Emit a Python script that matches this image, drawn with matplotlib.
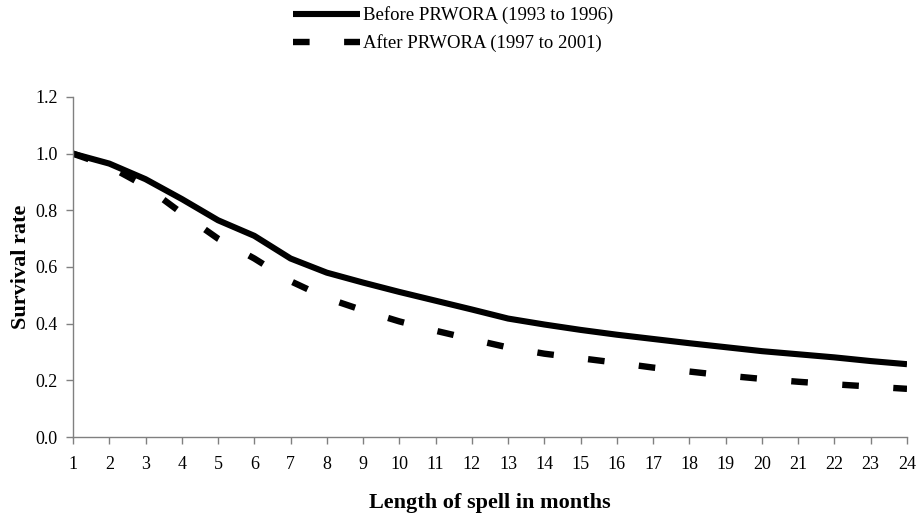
import matplotlib
matplotlib.use("Agg")
import matplotlib.pyplot as plt

months = list(range(1, 25))
before = [1.0, 0.965, 0.91, 0.84, 0.765, 0.71, 0.63, 0.58, 0.545, 0.512, 0.481, 0.45,
          0.418, 0.397, 0.378, 0.361, 0.346, 0.331, 0.317, 0.303, 0.292, 0.281, 0.268, 0.257]
after = [1.0, 0.955, 0.885, 0.79, 0.70, 0.63, 0.55, 0.49, 0.447, 0.408, 0.375, 0.345,
         0.316, 0.294, 0.278, 0.262, 0.245, 0.231, 0.217, 0.205, 0.195, 0.186, 0.178, 0.170]
yticks = [0.0, 0.2, 0.4, 0.6, 0.8, 1.0, 1.2]
labels = ["Before PRWORA (1993 to 1996)", "After PRWORA (1997 to 2001)"]

plt.rcParams['font.family'] = ['Liberation Serif', 'DejaVu Serif']

fig = plt.figure(figsize=(9.19, 5.22), dpi=100)
ax = fig.add_axes([73/919, 1 - 437/522, (907 - 73)/919, (437 - 97)/522])

ax.plot(months, before, color='black', lw=4.4, solid_capstyle='butt', label=labels[0])
ax.plot(months, after, color='black', lw=4.6, dashes=(2.6, 5.4), dash_capstyle='butt',
        label=labels[1])

ax.set_xlim(1, 24)
ax.set_ylim(0, 1.2)
ax.set_xticks(months)
ax.set_xticklabels([str(m) for m in months])
ax.set_yticks(yticks)
ax.set_yticklabels([f"{v:.1f}" for v in yticks])

for s in ['top', 'right']:
    ax.spines[s].set_visible(False)
for s in ['left', 'bottom']:
    ax.spines[s].set_color('#808080')
    ax.spines[s].set_linewidth(1.0)
ax.tick_params(axis='both', direction='out', length=5, width=1.0, color='#808080',
               labelsize=13, labelcolor='black')
ax.tick_params(axis='x', pad=9)
ax.tick_params(axis='y', pad=6)

ax.set_xlabel("Length of spell in months", fontsize=16, fontweight='bold', labelpad=14)
ax.set_ylabel("Survival rate", fontsize=16, fontweight='bold', labelpad=3)

fig.legend(loc='upper center', bbox_to_anchor=(0.493, 1.006), frameon=False, fontsize=13.5,
           handlelength=3.6, handletextpad=0.15, labelspacing=0.55, ncol=1,
           borderaxespad=0.1)

fig.savefig("out.png", dpi=100)
